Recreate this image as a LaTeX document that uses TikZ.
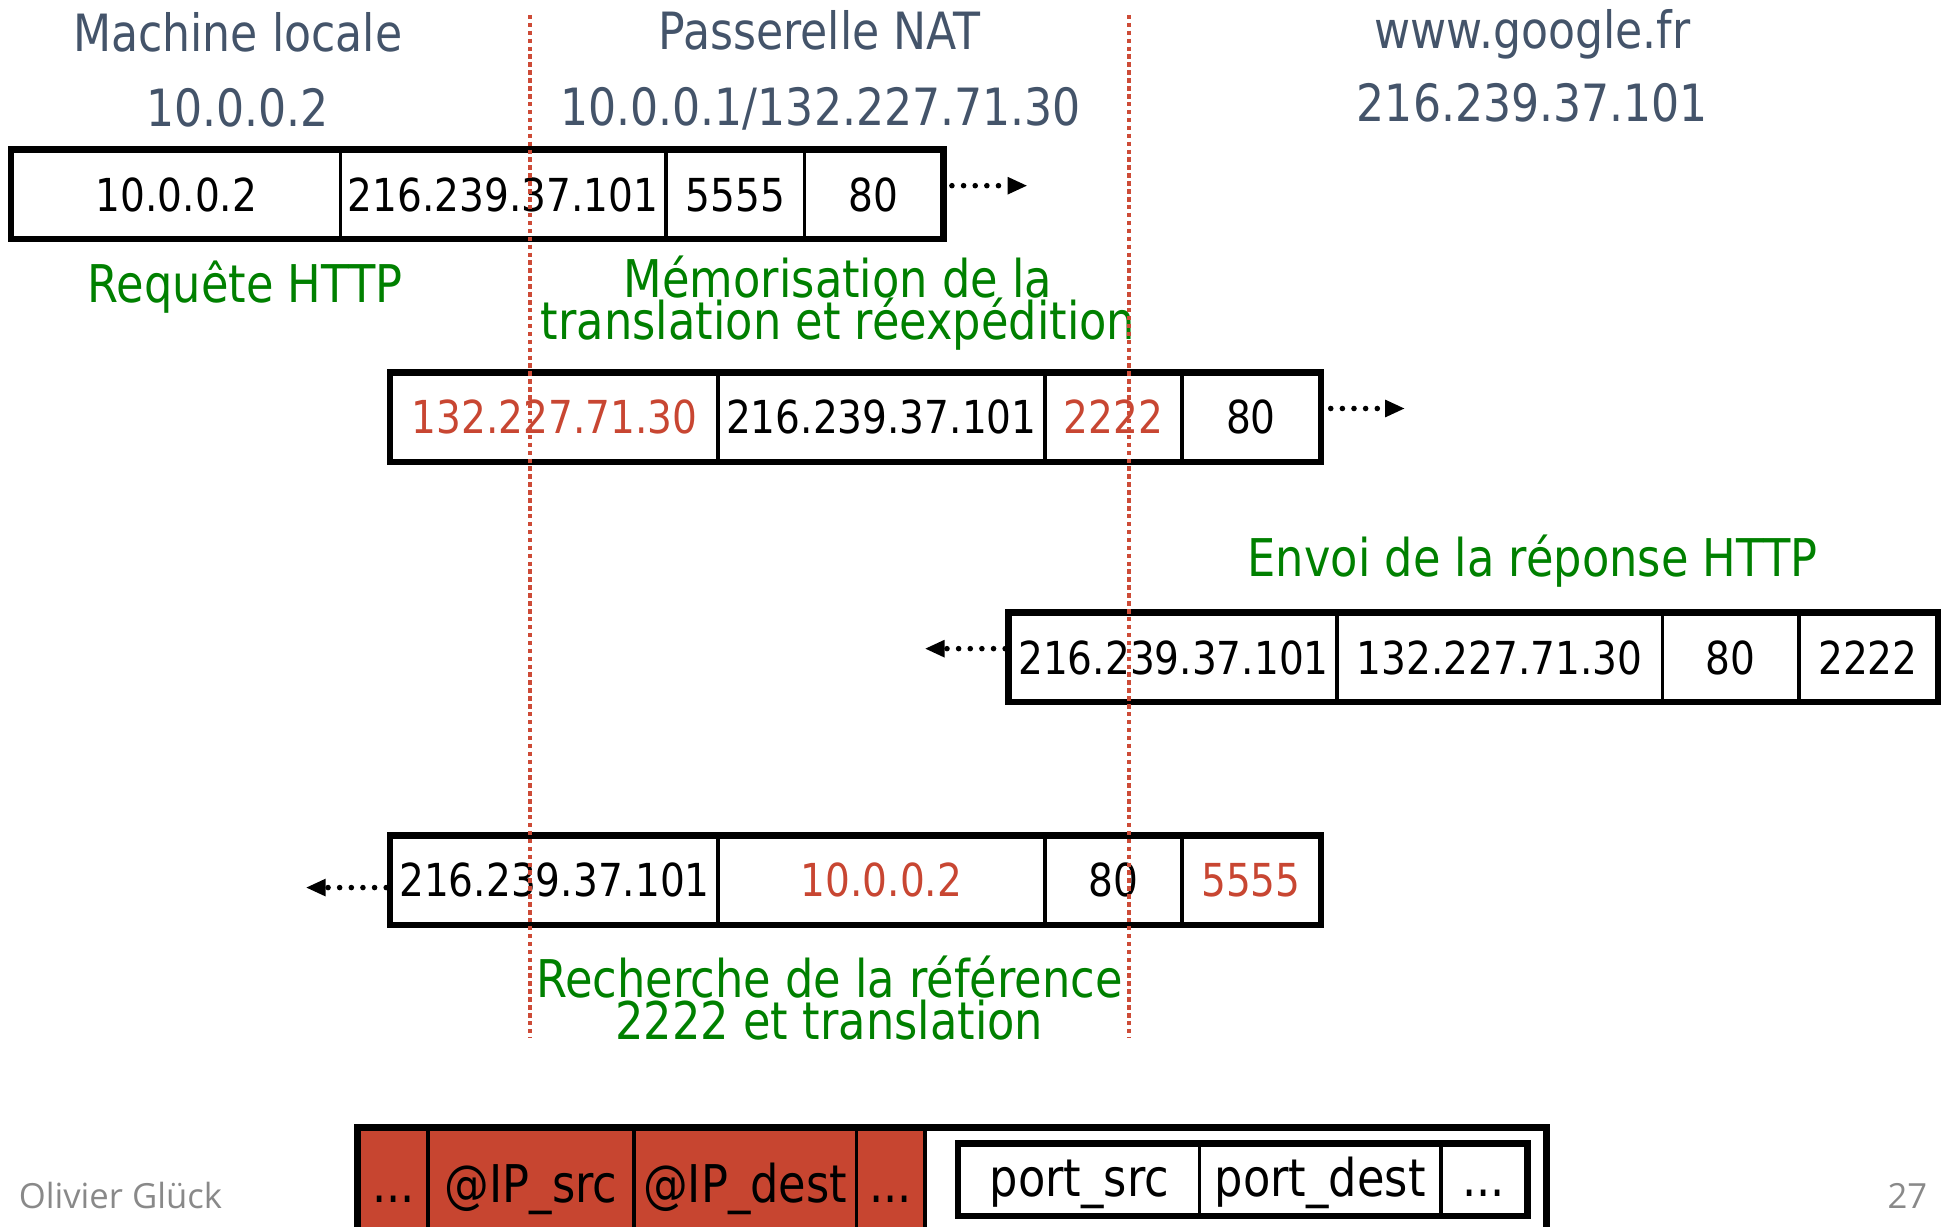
\documentclass[tikz,border=0pt]{standalone}
\usepackage{fontspec}
\setmainfont{DejaVu Sans}[FakeStretch=0.86]
\newfontfamily\footfont{Open Sans}
\usetikzlibrary{arrows.meta}
\definecolor{titlecol}{RGB}{68,84,106}
\definecolor{grn}{RGB}{0,128,0}
\definecolor{redtxt}{RGB}{200,70,50}
\definecolor{redfill}{RGB}{199,69,48}
\definecolor{footgray}{RGB}{137,137,137}
\definecolor{natred}{RGB}{205,75,55}
\tikzset{
  cell/.style={draw=black, line width=3pt, inner sep=0pt, minimum height=70pt,
    text height=27pt, text depth=0pt, font=\fontsize{36.7}{40}\selectfont},
  frame/.style={draw=black, line width=4.5pt},
  title/.style={font=\fontsize{41.5}{45}\selectfont, text=titlecol, anchor=base, inner sep=0pt},
  note/.style={font=\fontsize{42}{35}\selectfont, text=grn, anchor=base, inner sep=0pt},
  flow/.style={line width=4.5pt, dash pattern=on 0pt off 9.4pt, line cap=round,
    -{Triangle[length=16pt,width=13pt]}},
  natline/.style={draw=natred, line width=3.3pt, dash pattern=on 3.6pt off 2.8pt},
  pcell/.style={draw=black, line width=3pt, inner sep=0pt, minimum height=128pt,
    text height=30pt, text depth=40pt, font=\fontsize{42}{45}\selectfont, fill=redfill},
  tcell/.style={draw=black, line width=3pt, inner sep=0pt, minimum height=56pt,
    text height=27pt, text depth=0pt, font=\fontsize{42}{45}\selectfont, fill=white},
  foot/.style={font=\footfont\fontsize{28}{30}\selectfont, text=footgray, inner sep=0pt}
}
\begin{document}
\begin{tikzpicture}[x=1pt,y=-1pt]
\useasboundingbox (0,0) rectangle (1568,991);
\clip (0,0) rectangle (1568,991);

% titles
\node[title] (t1) at (192,42) {Machine locale};
\node[title] (t1b) at (192,102) {10.0.0.2};
\node[title] (t2) at (662,40) {Passerelle NAT};
\node[title] (t2b) at (663,101) {10.0.0.1/132.227.71.30};
\node[title] (t3) at (1238,39) {www.google.fr};
\node[title] (t3b) at (1238,98) {216.239.37.101};

% row 1
\node[cell, minimum width=265pt] (r1a) at (142.5,157) {10.0.0.2};
\node[cell, minimum width=263pt] (r1b) at (406.5,157) {216.239.37.101};
\node[cell, minimum width=112pt] (r1c) at (594,157) {5555};
\node[cell, minimum width=111pt] (r1d) at (705.5,157) {80};
\draw[frame] (r1a.north west) rectangle (r1d.south east);

% row 2
\node[cell, minimum width=264pt, text=redtxt] (r2a) at (448,337) {132.227.71.30};
\node[cell, minimum width=264pt] (r2b) at (712,337) {216.239.37.101};
\node[cell, minimum width=111pt, text=redtxt] (r2c) at (899.5,337) {2222};
\node[cell, minimum width=111pt] (r2d) at (1010.5,337) {80};
\draw[frame] (r2a.north west) rectangle (r2d.south east);

% row 3
\node[cell, minimum width=264pt] (r3a) at (948,531) {216.239.37.101};
\node[cell, minimum width=263pt] (r3b) at (1211.5,531) {132.227.71.30};
\node[cell, minimum width=110pt] (r3c) at (1398,531) {80};
\node[cell, minimum width=112pt] (r3d) at (1509,531) {2222};
\draw[frame] (r3a.north west) rectangle (r3d.south east);

% row 4
\node[cell, minimum width=264pt] (r4a) at (448,711) {216.239.37.101};
\node[cell, minimum width=264pt, text=redtxt] (r4b) at (712,711) {10.0.0.2};
\node[cell, minimum width=111pt] (r4c) at (899.5,711) {80};
\node[cell, minimum width=111pt, text=redtxt] (r4d) at (1010.5,711) {5555};
\draw[frame] (r4a.north west) rectangle (r4d.south east);

% arrows
\coordinate (a1s) at (769,150); \coordinate (a1e) at (830,150);
\coordinate (a2s) at (1075,330); \coordinate (a2e) at (1135,330);
\coordinate (a3s) at (812,524); \coordinate (a3e) at (747,524);
\coordinate (a4s) at (312,717); \coordinate (a4e) at (247,717);
\draw[flow] (a1s) -- (a1e);
\draw[flow] (a2s) -- (a2e);
\draw[flow] (a3s) -- (a3e);
\draw[flow] (a4s) -- (a4e);

% green notes
\node[note] (n1) at (198,244) {Requête HTTP};
\node[note] (n2) at (677,240) {Mémorisation de la};
\node[note] (n2b) at (677,274) {translation et réexpédition};
\node[note] (n3) at (1238,466) {Envoi de la réponse HTTP};
\node[note] (n4) at (670,806) {Recherche de la référence};
\node[note] (n4b) at (670,840) {2222 et translation};

% packet at bottom
\node[draw=black, line width=3pt, fill=white, minimum width=958pt, minimum height=128pt, inner sep=0pt] (pkt) at (769,976) {};
\node[pcell, minimum width=56pt] (p1) at (318,976) {...};
\node[pcell, minimum width=166pt] (p2) at (429,976) {@IP\_src};
\node[pcell, minimum width=180pt] (p3) at (602,976) {@IP\_dest};
\node[pcell, minimum width=55pt] (p4) at (719.5,976) {...};
\draw[frame] (pkt.north west) rectangle (pkt.south east);
\node[tcell, minimum width=194pt] (q1) at (872,953) {port\_src};
\node[tcell, minimum width=195pt] (q2) at (1066.5,953) {port\_dest};
\node[tcell, minimum width=69pt] (q3) at (1198.5,953) {...};
\draw[frame] (q1.north west) rectangle (q3.south east);

% footer
\node[foot, anchor=base west] (author) at (15,976) {Olivier Glück};
\node[foot, anchor=base east] (page) at (1557,976) {27};

% NAT boundaries
\coordinate (lt) at (428,12); \coordinate (lb) at (428,838);
\coordinate (rt) at (912,12); \coordinate (rb) at (912,838);
\draw[natline] (lt) -- (lb);
\draw[natline] (rt) -- (rb);
\end{tikzpicture}
\end{document}
